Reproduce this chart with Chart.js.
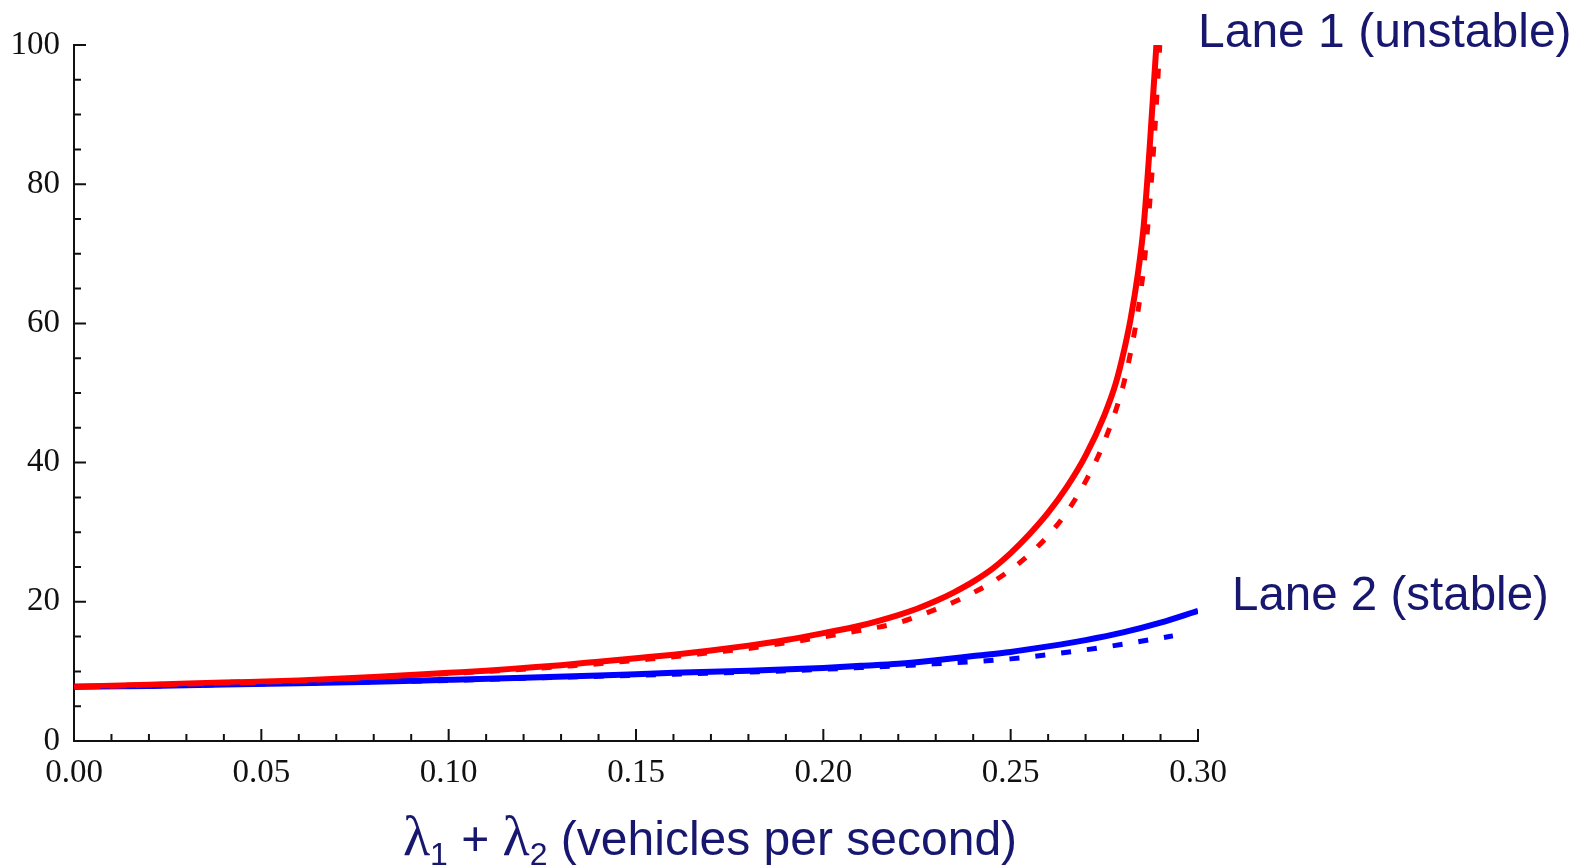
<!DOCTYPE html>
<html>
<head>
<meta charset="utf-8">
<script src="https://cdn.jsdelivr.net/npm/chart.js@4.4.0/dist/chart.umd.min.js"></script>
<style>
  html, body { margin: 0; padding: 0; background: #fff; }
  #wrap { width: 1587px; height: 867px; }
</style>
</head>
<body>
<div id="wrap"><canvas id="myChart" width="1587" height="867"></canvas></div>
<script>
// lane 1 (red) and lane 2 (blue), solid and dashed curves
var lane1SolidX = [0, 0.02, 0.04, 0.06, 0.08, 0.10, 0.11, 0.12, 0.13, 0.14, 0.15, 0.16, 0.17, 0.18, 0.19, 0.20, 0.21, 0.22, 0.225, 0.23, 0.235, 0.24, 0.245, 0.25, 0.255, 0.26, 0.265, 0.27, 0.275, 0.278, 0.28, 0.282, 0.284, 0.2855, 0.287, 0.2889];
var lane1Solid  = [7.8, 8.1, 8.4, 8.7, 9.2, 9.8, 10.1, 10.5, 10.9, 11.4, 11.9, 12.4, 13.0, 13.7, 14.5, 15.5, 16.6, 18.1, 19.0, 20.1, 21.4, 22.9, 24.7, 27.0, 29.7, 32.8, 36.5, 41.0, 46.8, 51.3, 55.5, 60.6, 67.3, 74.0, 84.5, 100];

var lane1DashX  = [0, 0.02, 0.04, 0.06, 0.08, 0.10, 0.11, 0.12, 0.13, 0.14, 0.15, 0.16, 0.17, 0.18, 0.19, 0.20, 0.21, 0.22, 0.225, 0.23, 0.235, 0.24, 0.245, 0.25, 0.255, 0.26, 0.265, 0.27, 0.275, 0.28, 0.282, 0.284, 0.2855, 0.287, 0.2885, 0.2898];
var lane1Dash   = [7.8, 8.1, 8.4, 8.7, 9.2, 9.7, 10.0, 10.3, 10.7, 11.1, 11.6, 12.1, 12.7, 13.3, 14.1, 14.95, 15.9, 17.0, 17.9, 18.9, 20.0, 21.3, 22.8, 24.6, 26.8, 29.5, 32.9, 37.3, 43.0, 51.0, 55.8, 61.8, 68.0, 76.5, 88, 100];

var lane2SolidX = [0, 0.02, 0.04, 0.06, 0.08, 0.10, 0.12, 0.14, 0.16, 0.18, 0.20, 0.21, 0.22, 0.23, 0.24, 0.25, 0.26, 0.27, 0.28, 0.29, 0.30];
var lane2Solid  = [7.8, 7.9, 8.1, 8.3, 8.5, 8.8, 9.1, 9.4, 9.8, 10.1, 10.5, 10.8, 11.1, 11.6, 12.2, 12.8, 13.6, 14.5, 15.6, 17.0, 18.7];

var lane2DashX  = [0, 0.02, 0.04, 0.06, 0.08, 0.10, 0.12, 0.14, 0.16, 0.18, 0.20, 0.21, 0.22, 0.23, 0.24, 0.25, 0.26, 0.27, 0.28, 0.29, 0.2933];
var lane2Dash   = [7.8, 7.9, 8.1, 8.3, 8.5, 8.7, 9.0, 9.3, 9.6, 9.9, 10.3, 10.55, 10.8, 11.1, 11.4, 11.8, 12.4, 13.1, 13.9, 14.8, 15.1];

var xTicks = [0, 0.05, 0.10, 0.15, 0.20, 0.25, 0.30];
var yTicks = [0, 20, 40, 60, 80, 100];

var navy = "#17176f";

function pts(xs, ys) {
  return xs.map(function (x, i) { return {x: x, y: ys[i]}; });
}

// ticks pointing into the plot, major + minor
var innerTicks = {
  id: "innerTicks",
  afterDraw: function (chart) {
    var ctx = chart.ctx, xs = chart.scales.x, ys = chart.scales.y;
    ctx.save();
    ctx.strokeStyle = "#111";
    ctx.lineWidth = 2;
    ctx.beginPath();
    for (var i = 0; i <= 30; i++) {
      var px = xs.getPixelForValue(i / 100);
      var len = (i % 5 === 0) ? 12 : 7;
      ctx.moveTo(px, ys.bottom);
      ctx.lineTo(px, ys.bottom - len);
    }
    for (var j = 0; j <= 20; j++) {
      var py = ys.getPixelForValue(j * 5);
      var l2 = (j % 4 === 0) ? 12 : 7;
      ctx.moveTo(xs.left, py);
      ctx.lineTo(xs.left + l2, py);
    }
    ctx.stroke();
    ctx.restore();
  }
};

var labels = {
  id: "labels",
  afterDraw: function (chart) {
    var ctx = chart.ctx, xs = chart.scales.x, ys = chart.scales.y;
    ctx.save();
    ctx.fillStyle = navy;
    ctx.textBaseline = "alphabetic";
    ctx.textAlign = "left";
    ctx.font = "48px 'Liberation Sans', Arial, sans-serif";
    ctx.fillText("Lane 1 (unstable)", xs.right, 47);
    ctx.font = "47.5px 'Liberation Sans', Arial, sans-serif";
    ctx.fillText("Lane 2 (stable)", xs.right + 34, 610);

    // x axis title with subscripts
    var big = "48px 'Liberation Sans', Arial, sans-serif";
    var lam = "56px 'Liberation Serif', serif";
    var small = "32px 'Liberation Sans', Arial, sans-serif";
    var parts = [
      {t: "\u03bb", f: lam, dy: 0},
      {t: "1", f: small, dy: 10},
      {t: " + ", f: big, dy: 0},
      {t: "\u03bb", f: lam, dy: 0},
      {t: "2", f: small, dy: 10},
      {t: " (vehicles per second)", f: big, dy: 0}
    ];
    var total = 0;
    parts.forEach(function (p) { ctx.font = p.f; p.w = ctx.measureText(p.t).width; total += p.w; });
    var x = 710 - total / 2, base = 855;
    parts.forEach(function (p) {
      ctx.font = p.f;
      ctx.fillText(p.t, x, base + p.dy);
      x += p.w;
    });
    ctx.restore();
  }
};

new Chart("myChart", {
  type: "line",
  data: {
    datasets: [
      {data: pts(lane1DashX, lane1Dash), borderColor: "#ff0000", borderWidth: 5, borderDash: [10, 16], pointRadius: 0, cubicInterpolationMode: "monotone", fill: false},
      {data: pts(lane2DashX, lane2Dash), borderColor: "#0000ff", borderWidth: 5, borderDash: [10, 16], pointRadius: 0, cubicInterpolationMode: "monotone", fill: false},
      {data: pts(lane1SolidX, lane1Solid), borderColor: "#ff0000", borderWidth: 6, pointRadius: 0, cubicInterpolationMode: "monotone", fill: false},
      {data: pts(lane2SolidX, lane2Solid), borderColor: "#0000ff", borderWidth: 6, pointRadius: 0, cubicInterpolationMode: "monotone", fill: false}
    ]
  },
  options: {
    responsive: false,
    animation: false,
    layout: {padding: {left: 0, top: 45, right: 389, bottom: 0}},
    plugins: {legend: {display: false}, tooltip: {enabled: false}},
    scales: {
      x: {
        type: "linear", min: 0, max: 0.3,
        afterFit: function (s) { s.height = 126; },
        afterBuildTicks: function (s) { s.ticks = xTicks.map(function (v) { return {value: v}; }); },
        ticks: {
          padding: 13, color: "#111", maxRotation: 0, autoSkip: false,
          font: {family: "'Liberation Serif', serif", size: 33},
          callback: function (v) { return Number(v).toFixed(2); }
        },
        grid: {drawOnChartArea: false, drawTicks: false, color: "rgba(0,0,0,0)"},
        border: {display: true, color: "#111", width: 2}
      },
      y: {
        min: 0, max: 100,
        afterFit: function (s) { s.width = 74; },
        afterBuildTicks: function (s) { s.ticks = yTicks.map(function (v) { return {value: v}; }); },
        ticks: {
          padding: 14, color: "#111", autoSkip: false,
          font: {family: "'Liberation Serif', serif", size: 33}
        },
        grid: {drawOnChartArea: false, drawTicks: false, color: "rgba(0,0,0,0)"},
        border: {display: true, color: "#111", width: 2}
      }
    }
  },
  plugins: [innerTicks, labels]
});
</script>
</body>
</html>
